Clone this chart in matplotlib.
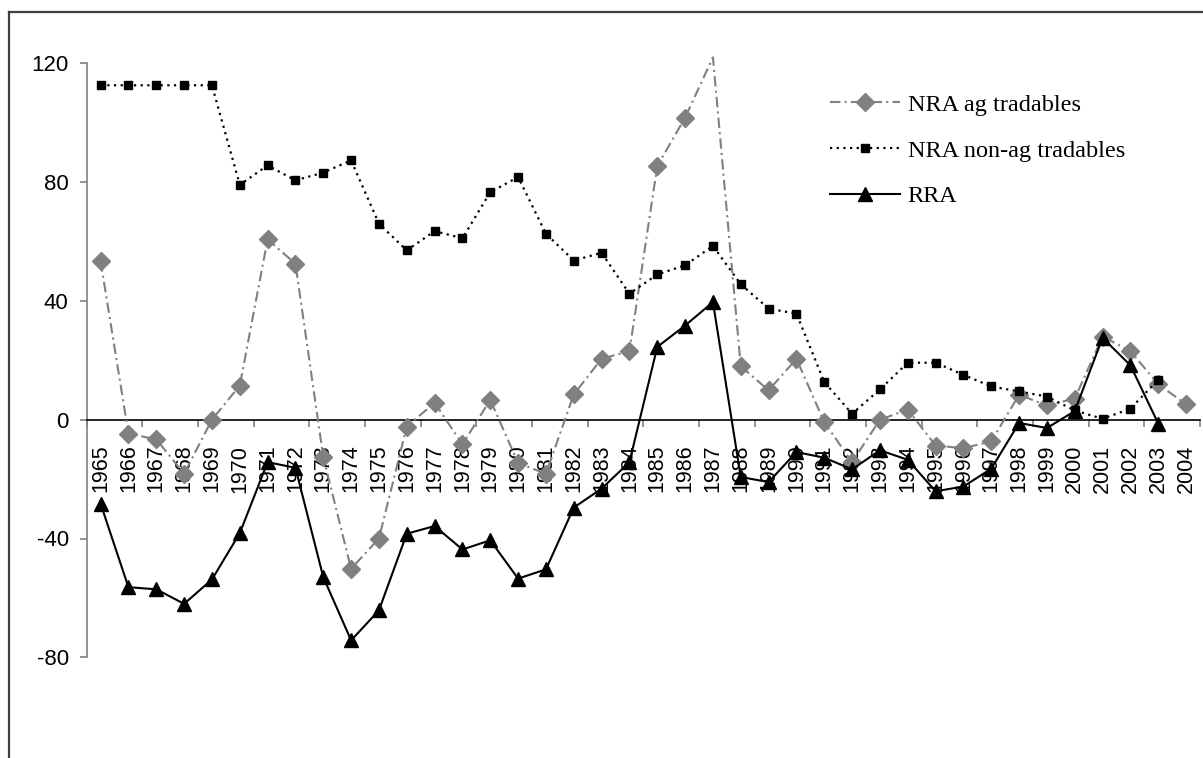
import numpy as np
import matplotlib
matplotlib.use('Agg')
import matplotlib.pyplot as plt
from matplotlib.lines import Line2D

# data
years = list(range(1965, 2005))

nra_ag = [53.3, -4.7, -6.6, -18.2, 0.0, 11.5, 60.7, 52.5, -12.6, -50.2,
          -40.0, -2.3, 5.7, -8.3, 6.7, -14.6, -18.2, 8.5, 20.5, 23.1,
          85.4, 101.7, 122.0, 18.0, 9.9, 20.5, -0.8, -14.3, 0.0, 3.4,
          -8.7, -9.6, -7.3, 8.4, 4.8, 7.1, 28.0, 23.1, 11.9, 5.2]

nra_nonag = [112.6, 112.6, 112.6, 112.6, 112.6, 79.1, 85.6, 80.6, 83.2, 87.3,
             66.0, 57.0, 63.5, 61.1, 76.6, 81.7, 62.6, 53.6, 56.2, 42.4,
             48.9, 52.0, 58.5, 45.6, 37.4, 35.7, 12.7, 2.0, 10.2, 19.2,
             19.2, 15.1, 11.2, 9.5, 7.8, 3.1, 0.3, 3.7, 13.5, np.nan]

rra = [-28.3, -56.4, -57.1, -62.0, -53.8, -38.2, -14.3, -16.2, -53.0, -74.3,
       -64.2, -38.4, -35.8, -43.7, -40.6, -53.5, -50.4, -29.6, -23.2, -14.3,
       24.5, 31.7, 39.6, -19.3, -21.0, -10.9, -12.8, -16.7, -10.3, -13.5,
       -24.1, -22.5, -16.5, -1.1, -2.8, 2.9, 27.6, 18.3, -1.3, np.nan]

y_ticks = [-80, -40, 0, 40, 80, 120]

tick_font = ['Liberation Sans', 'DejaVu Sans']
legend_font = ['Liberation Serif', 'DejaVu Serif']

fig = plt.figure(figsize=(12.03, 7.58), dpi=100)
ax = fig.add_axes([86.7 / 1203, 1 - 657.3 / 758, (1200 - 86.7) / 1203, (657.3 - 63.3) / 758])

x = np.arange(len(years))
ymax = 120
# points above the axis maximum show no marker, as in the original
ag_marks = [i for i, v in enumerate(nra_ag) if v <= ymax]

ax.plot(x, nra_ag, color='#808080', lw=1.5, ls=(0, (5, 2, 1, 2)),
        marker='D', ms=9, markevery=ag_marks, mec='#808080', mfc='#808080',
        clip_on=False, label='NRA ag tradables', zorder=3)
ax.plot(x, nra_nonag, color='black', lw=1.6, ls=(0, (1, 2)),
        marker='s', ms=6, mec='black', mfc='black',
        label='NRA non-ag tradables', zorder=4)
ax.plot(x, rra, color='black', lw=1.5, ls='-',
        marker='^', ms=10, mec='black', mfc='black',
        label='RRA', zorder=5)

ax.set_xlim(-0.5, len(years) - 0.5)
ax.set_ylim(-80, ymax)

# axis styling, Excel-like
for s in ['top', 'right']:
    ax.spines[s].set_visible(False)
ax.spines['left'].set_color('#808080')
ax.spines['left'].set_linewidth(1.2)
ax.spines['bottom'].set_position(('data', 0))
ax.spines['bottom'].set_color('black')
ax.spines['bottom'].set_linewidth(1.2)

ax.set_yticks(y_ticks)
ax.set_yticklabels([str(v) for v in y_ticks], fontfamily=tick_font, fontsize=16)
ax.tick_params(axis='y', direction='out', length=5, width=1.2, color='#808080', pad=8)

ax.set_xticks(np.arange(-0.5, len(years), 2))
ax.set_xticklabels([])
ax.set_xticks(x, minor=True)
ax.set_xticklabels([str(y) for y in years], minor=True, rotation=90,
                   fontfamily=tick_font, fontsize=15.5)
ax.tick_params(axis='x', which='major', direction='out', length=5, width=1.2, color='#808080')
ax.tick_params(axis='x', which='minor', length=0, pad=18)

leg = ax.legend(loc='upper left', bbox_to_anchor=(820 / 1203, 1 - 84 / 758),
                bbox_transform=fig.transFigure, frameon=False,
                prop={'family': legend_font, 'size': 17.5},
                handlelength=2.9, handletextpad=0.3, labelspacing=0.98,
                numpoints=1, borderaxespad=0)

# outer chart border (only left and top edges fall inside the image)
fig.add_artist(Line2D([9 / 1203, 9 / 1203], [0, 1 - 12 / 758], color='#404040', lw=1.6))
fig.add_artist(Line2D([9 / 1203, 1], [1 - 12 / 758, 1 - 12 / 758], color='#404040', lw=1.6))

fig.savefig('out.png', dpi=100)
